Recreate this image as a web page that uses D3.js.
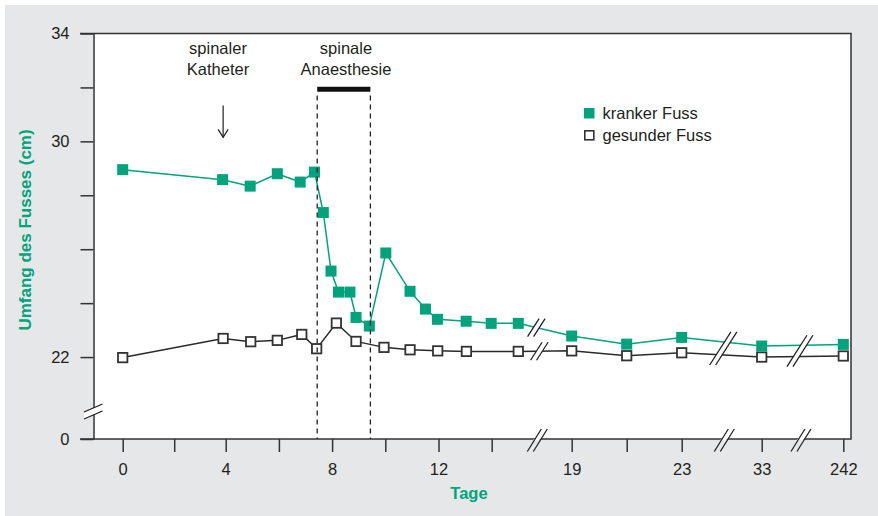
<!DOCTYPE html>
<html><head><meta charset="utf-8">
<script src="https://cdn.jsdelivr.net/npm/d3@7/dist/d3.min.js"></script>
<style>
html,body{margin:0;padding:0;background:#fff;}
svg{display:block;font-family:"Liberation Sans",Arial,Helvetica,sans-serif;}
</style></head>
<body>
<svg id="chart" width="878" height="516"></svg>
<script>
// ---- data ----
const krankDays   = [0, 3.88, 4.92, 5.94, 6.8, 7.34, 7.67, 7.96, 8.24, 8.67, 8.9, 9.4, 10.02, 10.93, 11.51, 11.96, 13.04, 13.98, 15, 19, 21, 23, 33, 242];
const krankValues = [28.95, 28.58, 28.34, 28.8, 28.49, 28.86, 27.36, 25.19, 24.41, 24.41, 23.47, 23.15, 25.86, 24.44, 23.78, 23.4, 23.33, 23.25, 23.25, 22.78, 22.48, 22.73, 22.41, 22.47];
const gesundDays   = [0, 3.9, 4.94, 5.94, 6.86, 7.42, 8.16, 8.9, 9.95, 10.93, 11.97, 13.05, 15, 19, 21, 23, 33, 242];
const gesundValues = [21.98, 22.69, 22.57, 22.62, 22.84, 22.31, 23.26, 22.58, 22.36, 22.27, 22.23, 22.21, 22.21, 22.23, 22.05, 22.16, 22.0, 22.04];
const xTickValues = [0, 2, 4, 6, 8, 10, 12, 14, 19, 21, 23, 33, 242];
const xTickLabels = ["0", "", "4", "", "8", "", "12", "", "19", "", "23", "33", "242"];
const yTickValues = [0, 22, 24, 26, 28, 30, 32, 34];
const yTickLabels = ["0", "22", "", "", "", "30", "", "34"];
const xBreakDays = [16.35, 28.2, 131];
const yBreakValue = 20;
const anaesthesia = [7.44, 9.44];
const katheterDay = 3.9;
const seriesNames = ["kranker Fuss", "gesunder Fuss"];

// ---- layout ----
const green = "#00a47c", ink = "#231f20", axisCol = "#333";
const svg = d3.select("#chart");
const L = 93.5, R = 851, T = 33.5, B = 439;

const x = d3.scaleLinear()
  .domain([0, 4, 14, 15, 19, 23, 33, 242])
  .range([122.7, 225.7, 491.7, 518.3, 571.7, 681.7, 761.7, 843.3]);
const y = d3.scaleLinear().domain([0, 20, 34]).range([B, 411, T]);

svg.append("rect").attr("width", 878).attr("height", 516).attr("fill", "#fff");
svg.append("rect").attr("x", 5).attr("y", 5).attr("width", 873).attr("height", 511).attr("fill", "#e6e7e8");
svg.append("rect").attr("x", L).attr("y", T).attr("width", R - L).attr("height", B - T).attr("fill", "#fff");

// frame
svg.append("path").attr("d", `M80,${T}H${R}V${B}H80`).attr("fill", "none").attr("stroke", axisCol).attr("stroke-width", 1.5);

// y axis
const yAxis = d3.axisLeft(y).tickValues(yTickValues).tickSize(13).tickSizeOuter(0).tickPadding(11)
  .tickFormat((d, i) => yTickLabels[i]);
const gy = svg.append("g").attr("transform", `translate(${L},0)`).call(yAxis);
gy.select(".domain").attr("stroke", axisCol).attr("stroke-width", 1.5);
gy.selectAll(".tick line").attr("stroke", axisCol).attr("stroke-width", 1.5);
gy.selectAll(".tick text").attr("fill", ink).style("font-size", "16.5px").style("font-family", "Liberation Sans, Arial, sans-serif");

// x axis
const xAxis = d3.axisBottom(x).tickValues(xTickValues).tickSize(13).tickSizeOuter(0).tickPadding(11)
  .tickFormat((d, i) => xTickLabels[i]);
const gx = svg.append("g").attr("transform", `translate(0,${B})`).call(xAxis);
gx.select(".domain").remove();
gx.selectAll(".tick line").attr("stroke", axisCol).attr("stroke-width", 1.5);
gx.selectAll(".tick text").attr("fill", ink).style("font-size", "16.5px").style("font-family", "Liberation Sans, Arial, sans-serif");

// x-axis break marks
xBreakDays.forEach(d => {
  const cx = x(d);
  const g = svg.append("g");
  const y0 = B + 12.5, y1 = B - 10;
  const k = 14 / 22.5; // horizontal shift per unit height
  const xa = cx - 9 + k * 12.5 - k * 1.2, xb = cx - 3 + k * 12.5 - k * 1.2;
  // small gap hiding the axis line between the slashes
  g.append("path").attr("d", `M${xa - 1.5},${B + 1.2}L${xa + 1.5},${B - 1.2}L${xb + 1.5},${B - 1.2}L${xb - 1.5},${B + 1.2}Z`).attr("fill", "#fff");
  [-9, -3].forEach(o => g.append("line").attr("x1", cx + o).attr("y1", y0).attr("x2", cx + o + 14).attr("y2", y1)
    .attr("stroke", "#222").attr("stroke-width", 1.3));
});
// y-axis break mark
{
  const cy = y(yBreakValue);
  const g = svg.append("g");
  g.append("path").attr("d", `M84,${cy + 1}L102.5,${cy - 7}L102.5,${cy}L84,${cy + 8}Z`).attr("fill", "#fff");
  [1, 8].forEach(o => g.append("line").attr("x1", 84).attr("y1", cy + o).attr("x2", 102.5).attr("y2", cy + o - 8)
    .attr("stroke", "#222").attr("stroke-width", 1.3));
}

// lines
const krank = krankDays.map((d, i) => ({d, v: krankValues[i]}));
const gesund = gesundDays.map((d, i) => ({d, v: gesundValues[i]}));
const line = d3.line().x(p => x(p.d)).y(p => y(p.v));
svg.append("path").datum(gesund).attr("d", line).attr("fill", "none").attr("stroke", "#2a2a2a").attr("stroke-width", 1.5);
svg.append("path").datum(krank).attr("d", line).attr("fill", "none").attr("stroke", green).attr("stroke-width", 1.5);

// line break marks
function interp(series, d) {
  for (let i = 1; i < series.length; i++) {
    if (series[i].d >= d) {
      const a = series[i-1], b = series[i];
      const t = (x(d) - x(a.d)) / (x(b.d) - x(a.d));
      return y(a.v) + t * (y(b.v) - y(a.v));
    }
  }
}
function slash(cx, top, bottom) {
  const g = svg.append("g");
  const h = bottom - top, dx = h * 0.32;
  g.append("path").attr("d", `M${cx - dx - 3},${bottom}L${cx + dx - 3},${top}L${cx + dx + 3},${top}L${cx - dx + 3},${bottom}Z`).attr("fill", "#fff");
  [-3, 3].forEach(o => g.append("line").attr("x1", cx - dx + o).attr("y1", bottom).attr("x2", cx + dx + o).attr("y2", top)
    .attr("stroke", "#222").attr("stroke-width", 1.3));
}
xBreakDays.forEach(d => {
  const cx = x(d);
  const yk = interp(krank, d), yg = interp(gesund, d);
  if (Math.abs(yk - yg) < 20) {
    slash(cx, Math.min(yk, yg) - 10, Math.max(yk, yg) + 10);
  } else {
    slash(cx, yk - 9, yk + 9);
    slash(cx + 3, yg - 9, yg + 9);
  }
});

// markers
const S = 11;
svg.append("g").selectAll("rect").data(gesund).join("rect")
  .attr("x", p => x(p.d) - (S - 1.6) / 2).attr("y", p => y(p.v) - (S - 1.6) / 2)
  .attr("width", S - 1.6).attr("height", S - 1.6)
  .attr("fill", "#fff").attr("stroke", "#333").attr("stroke-width", 1.8);
svg.append("g").selectAll("rect").data(krank).join("rect")
  .attr("x", p => x(p.d) - S / 2).attr("y", p => y(p.v) - S / 2)
  .attr("width", S).attr("height", S).attr("fill", green);

// anaesthesia period
svg.append("line").attr("x1", x(anaesthesia[0])).attr("x2", x(anaesthesia[1]))
  .attr("y1", y(31.93)).attr("y2", y(31.93)).attr("stroke", "#111").attr("stroke-width", 5);
anaesthesia.forEach(d => svg.append("line")
  .attr("x1", x(d)).attr("x2", x(d)).attr("y1", y(31.7)).attr("y2", B)
  .attr("stroke", "#222").attr("stroke-width", 1.3).attr("stroke-dasharray", "5,4"));

// katheter arrow
{
  const ax = x(katheterDay), y0 = y(31.33), y1 = y(30.15);
  svg.append("line").attr("x1", ax).attr("x2", ax).attr("y1", y0).attr("y2", y1).attr("stroke", ink).attr("stroke-width", 1.2);
  svg.append("path").attr("d", `M${ax - 5},${y1 - 8}L${ax},${y1}L${ax + 5},${y1 - 8}`)
    .attr("fill", "none").attr("stroke", ink).attr("stroke-width", 1.2);
}

// annotation text
const ann = svg.append("g").attr("fill", ink).style("font-size", "16.5px").attr("text-anchor", "middle");
ann.append("text").attr("x", 218).attr("y", 54).text("spinaler");
ann.append("text").attr("x", 218).attr("y", 75).text("Katheter");
ann.append("text").attr("x", 346).attr("y", 54).text("spinale");
ann.append("text").attr("x", 346).attr("y", 75).text("Anaesthesie");

// legend
const lg = svg.append("g").attr("transform", "translate(584,108)");
lg.append("rect").attr("x", 0).attr("y", 0).attr("width", 10.5).attr("height", 10.5).attr("fill", green);
lg.append("rect").attr("x", 0.8).attr("y", 22.8).attr("width", 9).attr("height", 9).attr("fill", "#fff").attr("stroke", "#333").attr("stroke-width", 1.6);
lg.append("text").attr("x", 18.5).attr("y", 11).attr("fill", ink).style("font-size", "16.5px").text(seriesNames[0]);
lg.append("text").attr("x", 18.5).attr("y", 33).attr("fill", ink).style("font-size", "16.5px").text(seriesNames[1]);

// axis titles
svg.append("text").attr("transform", "translate(31,230) rotate(-90)").attr("text-anchor", "middle")
  .attr("fill", green).style("font-size", "17px").style("font-weight", "bold").text("Umfang des Fusses (cm)");
svg.append("text").attr("x", 469).attr("y", 499).attr("text-anchor", "middle")
  .attr("fill", green).style("font-size", "16.5px").style("font-weight", "bold").text("Tage");
</script>
</body></html>
